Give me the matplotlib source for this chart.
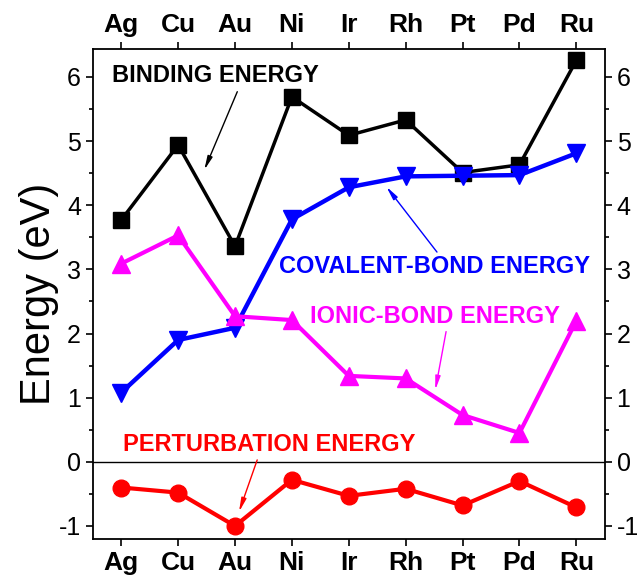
import numpy as np
import matplotlib.pyplot as plt
from matplotlib.ticker import MultipleLocator

plt.rcParams['font.family'] = ['Liberation Sans', 'DejaVu Sans']
plt.rcParams['axes.unicode_minus'] = False

# Metals along the x axis
metals = ['Ag', 'Cu', 'Au', 'Ni', 'Ir', 'Rh', 'Pt', 'Pd', 'Ru']

# Energies in eV
binding = [3.77, 4.94, 3.36, 5.69, 5.09, 5.33, 4.51, 4.63, 6.26]
covalent = [1.08, 1.90, 2.09, 3.78, 4.28, 4.45, 4.46, 4.47, 4.81]
ionic = [3.09, 3.53, 2.27, 2.21, 1.34, 1.30, 0.73, 0.45, 2.20]
perturbation = [-0.40, -0.48, -1.00, -0.28, -0.53, -0.42, -0.68, -0.30, -0.71]

x = np.arange(len(metals))

fig = plt.figure(figsize=(6.4, 5.8), dpi=100)
ax = fig.add_axes([0.145, 0.071, 0.8, 0.845])

ax.axhline(0, color='black', lw=1)

ax.plot(x, binding, color='black', lw=2.5, marker='s', ms=11, zorder=3)
ax.plot(x, covalent, color='blue', lw=3.2, marker='v', ms=13, zorder=3)
ax.plot(x, ionic, color='magenta', lw=3, marker='^', ms=13, zorder=3)
ax.plot(x, perturbation, color='red', lw=3, marker='o', ms=12, zorder=3)

ax.set_xlim(-0.5, 8.5)
ax.set_ylim(-1.2, 6.44)
ax.set_xticks(x)
ax.set_xticklabels(metals, fontweight='bold', fontsize=19)
ax.yaxis.set_major_locator(MultipleLocator(1))
ax.yaxis.set_minor_locator(MultipleLocator(0.5))
ax.tick_params(axis='both', which='major', direction='out', length=5, width=1.2,
               top=True, right=True, labeltop=True, labelright=True)
ax.tick_params(axis='y', which='major', labelsize=18)
ax.tick_params(axis='y', which='minor', direction='out', length=3, width=1.2, right=True)
for sp in ax.spines.values():
    sp.set_linewidth(1.3)
ax.set_ylabel('Energy (eV)', fontsize=30, labelpad=0)

# Labels and their arrows
def label(text, pos, tail, head, color):
    ax.text(pos[0], pos[1], text, color=color, fontsize=17, fontweight='bold',
            ha='center', va='center', zorder=4)
    ax.annotate('', xy=head, xytext=tail,
                arrowprops=dict(arrowstyle='-|>,head_width=0.15,head_length=0.8',
                                color=color, lw=1, shrinkA=0, shrinkB=0))

label('BINDING ENERGY', (1.65, 6.03), (2.04, 5.77), (1.46, 4.55), 'black')
label('COVALENT-BOND ENERGY', (5.5, 3.04), (5.55, 3.27), (4.66, 4.29), 'blue')
label('IONIC-BOND ENERGY', (5.52, 2.26), (5.71, 2.03), (5.52, 1.12), 'magenta')
label('PERTURBATION ENERGY', (2.6, 0.27), (2.39, 0.03), (2.07, -0.78), 'red')

fig.savefig('out.png', dpi=100)
